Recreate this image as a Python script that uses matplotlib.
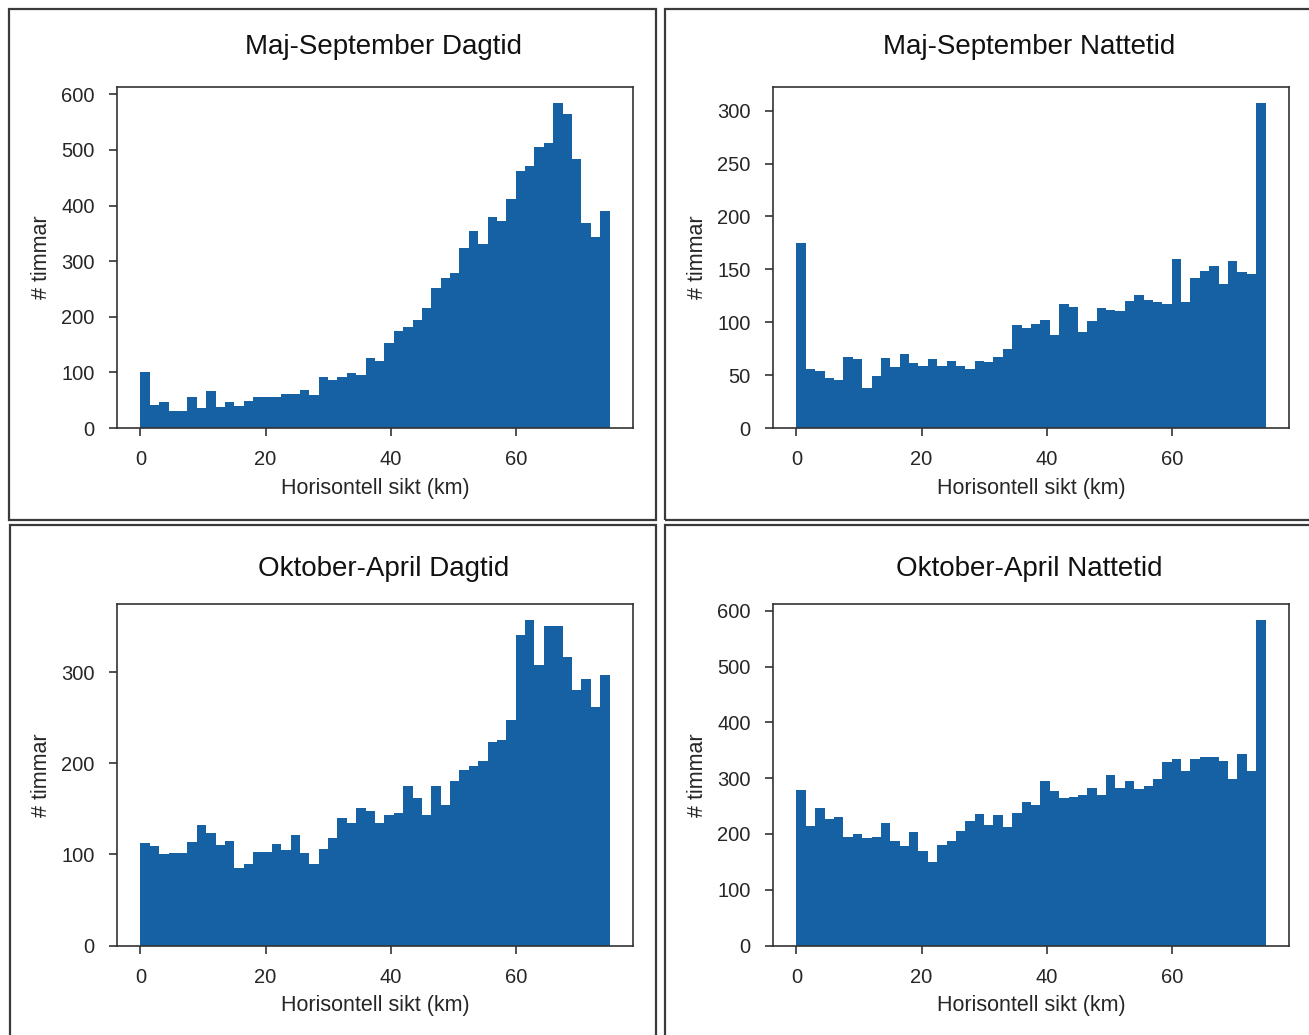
import numpy as np
import matplotlib
matplotlib.use("Agg")
import matplotlib.pyplot as plt
from matplotlib.patches import Rectangle

plt.rcParams['font.family'] = ['Liberation Sans', 'DejaVu Sans']

# ---- data (hours per 1.5 km visibility bin, 0-75 km) ----
bin_edges = np.linspace(0, 75, 51)

titles = ["Maj-September Dagtid", "Maj-September Nattetid",
          "Oktober-April Dagtid", "Oktober-April Nattetid"]

maj_sep_dag = [100, 41, 46, 31, 31, 56, 36, 67, 38, 47, 40, 49, 55, 55, 55, 61, 61, 68, 60, 92,
               87, 92, 99, 96, 125, 120, 153, 175, 182, 195, 215, 251, 270, 278, 323, 355, 330, 380, 372, 411,
               462, 472, 506, 513, 584, 564, 484, 368, 343, 391]
maj_sep_natt = [175, 56, 54, 47, 45, 67, 65, 38, 49, 66, 58, 70, 61, 59, 65, 59, 63, 59, 56, 63,
                62, 67, 75, 97, 95, 98, 102, 88, 117, 114, 91, 101, 113, 112, 111, 120, 126, 121, 119, 117,
                160, 119, 142, 148, 153, 136, 158, 147, 146, 307]
okt_apr_dag = [112, 109, 100, 101, 102, 114, 132, 124, 110, 115, 85, 90, 103, 103, 111, 105, 121, 101, 90, 106,
               118, 140, 134, 151, 148, 135, 143, 145, 175, 162, 143, 175, 154, 181, 193, 197, 203, 223, 226, 247,
               341, 357, 308, 351, 351, 317, 280, 293, 262, 297]
okt_apr_natt = [278, 214, 247, 227, 230, 195, 200, 192, 195, 220, 187, 179, 204, 170, 149, 180, 188, 206, 224, 236,
                216, 234, 213, 237, 257, 251, 294, 277, 264, 267, 270, 283, 270, 305, 282, 295, 280, 286, 299, 329,
                334, 313, 335, 337, 337, 331, 298, 343, 313, 583]

series = [maj_sep_dag, maj_sep_natt, okt_apr_dag, okt_apr_natt]
yticks = [[0, 100, 200, 300, 400, 500, 600],
          [0, 50, 100, 150, 200, 250, 300],
          [0, 100, 200, 300],
          [0, 100, 200, 300, 400, 500, 600]]
xticks = [0, 20, 40, 60]
xlabel = "Horisontell sikt (km)"
ylabel = "# timmar"

BAR = '#1561a4'
SPINE = '#333333'
TXT = '#262626'

W, H = 1309, 1035
fig = plt.figure(figsize=(W / 100, H / 100), dpi=100)

def fx(px):
    return px / W

def fy(py):
    return 1 - py / H

# panel frames (pixel boxes: x0, y0_top, x1, y1_bottom)
frames = [(8.5, 8.5, 656, 519.5), (665, 8.5, 1320, 519.5),
          (10, 525.5, 656, 1045), (665, 525.5, 1320, 1045)]
for (x0, y0, x1, y1) in frames:
    fig.patches.append(Rectangle((fx(x0), fy(y1)), fx(x1) - fx(x0), fy(y0) - fy(y1),
                                 transform=fig.transFigure, fill=False,
                                 edgecolor='#3a3a3a', linewidth=1.6, zorder=0))

axes_px = [(117, 87, 633, 428), (773, 87, 1289, 428),
           (117, 604, 633, 945.5), (773, 604, 1289, 945.5)]
title_pads = [24, 24, 20.5, 20.5]
title_x = [0.516, 0.497, 0.516, 0.497]

for i, (x0, y0, x1, y1) in enumerate(axes_px):
    ax = fig.add_axes([fx(x0), fy(y1), fx(x1) - fx(x0), fy(y0) - fy(y1)])
    ax.bar(bin_edges[:-1], series[i], width=np.diff(bin_edges), align='edge',
           color=BAR, edgecolor='none', linewidth=0)
    ax.set_xticks(xticks)
    ax.set_yticks(yticks[i])
    ax.set_title(titles[i], fontsize=20, color='#111111', pad=title_pads[i], x=title_x[i])
    ax.set_xlabel(xlabel, fontsize=15.5, color=TXT, labelpad=6)
    ax.set_ylabel(ylabel, fontsize=15.5, color=TXT, labelpad=7)
    for s in ax.spines.values():
        s.set_color(SPINE)
        s.set_linewidth(1.2)
    ax.tick_params(direction='out', length=6, width=1.2, color=SPINE,
                   labelsize=14.5, labelcolor=TXT, pad=10)

fig.savefig("out.png", dpi=100, facecolor='white')
